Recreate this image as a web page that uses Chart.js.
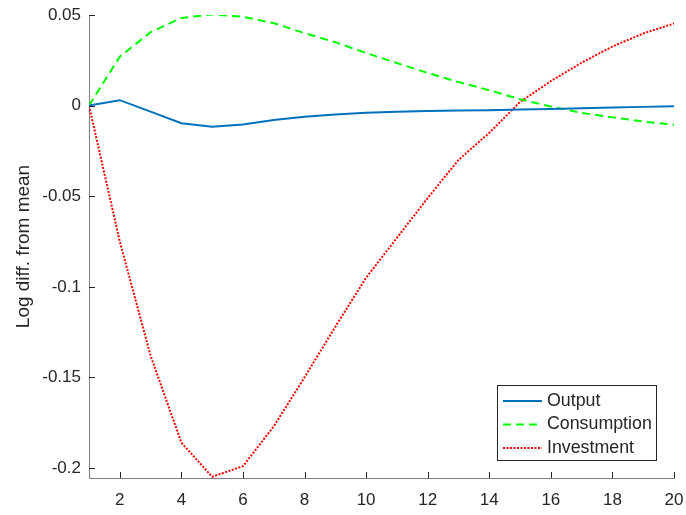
<!DOCTYPE html>
<html>
<head>
<meta charset="utf-8">
<script src="https://cdn.jsdelivr.net/npm/chart.js@4.4.1/dist/chart.umd.min.js"></script>
<style>
  html, body { margin: 0; padding: 0; background: #fff; }
  #wrap { width: 686px; height: 515px; }
</style>
</head>
<body>
<div id="wrap"><canvas id="irf"></canvas></div>
<script>
// impulse responses, periods 1..20
const periods = [1, 2, 3, 4, 5, 6, 7, 8, 9, 10, 11, 12, 13, 14, 15, 16, 17, 18, 19, 20];
const output = [0, 0.003, -0.0033, -0.0097, -0.0116, -0.0104, -0.0079, -0.0062, -0.0049, -0.004,
                -0.0034, -0.003, -0.0027, -0.0025, -0.0022, -0.0019, -0.0015, -0.0011, -0.0007, -0.0003];
const consumption = [0, 0.027, 0.0405, 0.0484, 0.0503, 0.049, 0.0455, 0.040, 0.035, 0.029,
                     0.0235, 0.018, 0.013, 0.0085, 0.0035, -0.0005, -0.004, -0.0065, -0.0088, -0.0105];
const investment = [0, -0.075, -0.138, -0.186, -0.2048, -0.199, -0.177, -0.150, -0.122, -0.095,
                    -0.073, -0.051, -0.030, -0.015, 0.002, 0.0135, 0.0237, 0.0326, 0.0398, 0.0453];

const seriesNames = ['Output', 'Consumption', 'Investment'];
const xTicks = [2, 4, 6, 8, 10, 12, 14, 16, 18, 20];
const xTickLabels = ['2', '4', '6', '8', '10', '12', '14', '16', '18', '20'];
const yTicks = [-0.2, -0.15, -0.1, -0.05, 0, 0.05];
const yTickLabels = ['-0.2', '-0.15', '-0.1', '-0.05', '0', '0.05'];
const yTitle = 'Log diff. from mean';

const textColor = '#262626';
const fontFamily = '"Liberation Sans", Arial, Helvetica, sans-serif';

const toPoints = (vals) => vals.map((v, i) => ({ x: periods[i], y: v }));

// MATLAB style ticks pointing into the axes
const inwardTicks = {
    id: 'inwardTicks',
    afterDatasetsDraw(chart) {
        const { ctx, chartArea, scales } = chart;
        ctx.save();
        ctx.strokeStyle = textColor;
        ctx.lineWidth = 1;
        ctx.beginPath();
        scales.x.ticks.forEach(t => {
            const px = Math.round(scales.x.getPixelForValue(t.value)) + 0.5;
            ctx.moveTo(px, chartArea.bottom);
            ctx.lineTo(px, chartArea.bottom - 6);
        });
        scales.y.ticks.forEach(t => {
            const py = Math.round(scales.y.getPixelForValue(t.value)) + 0.5;
            ctx.moveTo(chartArea.left, py);
            ctx.lineTo(chartArea.left + 6, py);
        });
        ctx.stroke();
        ctx.restore();
    }
};

// boxed legend in the lower right corner
const boxLegend = {
    id: 'boxLegend',
    afterDraw(chart) {
        const { ctx, chartArea } = chart;
        const w = 159, h = 75;
        const x0 = chartArea.right - 18 - w;
        const y0 = chartArea.bottom - 18 - h;
        ctx.save();
        ctx.fillStyle = '#fff';
        ctx.fillRect(x0, y0, w, h);
        ctx.strokeStyle = textColor;
        ctx.lineWidth = 1;
        ctx.strokeRect(Math.round(x0) + 0.5, Math.round(y0) + 0.5, w, h);
        ctx.font = '17.8px ' + fontFamily;
        ctx.textBaseline = 'middle';
        ctx.fillStyle = textColor;
        chart.data.datasets.forEach((ds, i) => {
            const yy = y0 + 16 + i * 23.5;
            ctx.beginPath();
            ctx.strokeStyle = ds.borderColor;
            ctx.lineWidth = ds.borderWidth;
            ctx.setLineDash(ds.borderDash || []);
            ctx.moveTo(x0 + 6, yy);
            ctx.lineTo(x0 + 45, yy);
            ctx.stroke();
            ctx.setLineDash([]);
            ctx.fillText(ds.label, x0 + 50, yy);
        });
        ctx.restore();
    }
};

new Chart(document.getElementById('irf'), {
    type: 'line',
    data: {
        datasets: [
            { label: seriesNames[0], data: toPoints(output), borderColor: '#0072BD', borderWidth: 2 },
            { label: seriesNames[1], data: toPoints(consumption), borderColor: '#00FF00', borderWidth: 2, borderDash: [8, 5] },
            { label: seriesNames[2], data: toPoints(investment), borderColor: '#FF0000', borderWidth: 2, borderDash: [2, 1.5] }
        ]
    },
    options: {
        responsive: true,
        maintainAspectRatio: false,
        animation: false,
        layout: { padding: { top: 15, right: 12, left: 0, bottom: 0 } },
        elements: { point: { radius: 0 }, line: { tension: 0 } },
        plugins: { legend: { display: false }, tooltip: { enabled: false } },
        scales: {
            x: {
                type: 'linear',
                min: 1,
                max: 20,
                grid: { display: false, drawTicks: false },
                border: { color: '#808080', width: 1 },
                afterBuildTicks: (scale) => { scale.ticks = xTicks.map(v => ({ value: v })); },
                afterFit: (scale) => {
                    scale.height = 37;
                    scale.paddingLeft = 0;
                    scale.paddingRight = 0;
                },
                ticks: {
                    color: textColor,
                    padding: 12,
                    font: { family: fontFamily, size: 17 },
                    callback: (v) => xTickLabels[xTicks.indexOf(v)]
                }
            },
            y: {
                type: 'linear',
                min: -0.2055,
                max: 0.05,
                grid: { display: false, drawTicks: false },
                border: { color: '#808080', width: 1 },
                afterBuildTicks: (scale) => { scale.ticks = yTicks.map(v => ({ value: v })); },
                afterFit: (scale) => {
                    scale.width = 89;
                    scale.paddingTop = 0;
                    scale.paddingBottom = 0;
                },
                ticks: {
                    color: textColor,
                    padding: 8,
                    font: { family: fontFamily, size: 17 },
                    callback: (v) => yTickLabels[yTicks.indexOf(v)]
                },
                title: {
                    display: true,
                    text: yTitle,
                    color: textColor,
                    font: { family: fontFamily, size: 19 },
                    padding: { top: 12, bottom: 0 }
                }
            }
        }
    },
    plugins: [inwardTicks, boxLegend]
});
</script>
</body>
</html>
